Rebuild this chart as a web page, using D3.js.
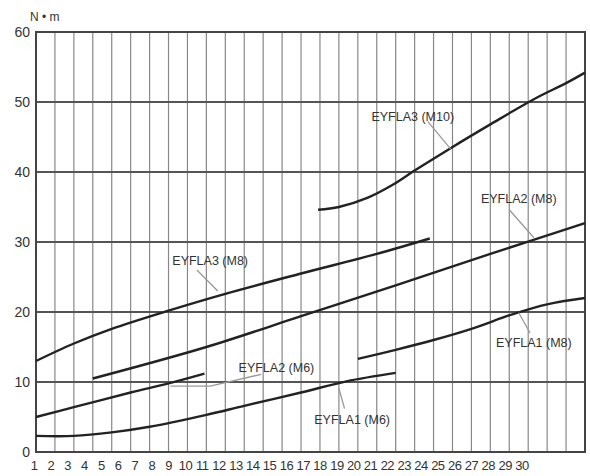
<!DOCTYPE html>
<html><head><meta charset="utf-8">
<script src="https://cdn.jsdelivr.net/npm/d3@7"></script>
<style>body{margin:0;background:#fff}svg{display:block}text{font-family:"Liberation Sans",Arial,sans-serif;fill:#333}</style>
</head><body><svg id="c" width="590" height="476"></svg>
<script>
const xTickLabels = d3.range(1, 31);
const yTicks = [0, 10, 20, 30, 40, 50, 60];
const yUnit = "N • m";
const seriesNames = ["EYFLA1 (M6)", "EYFLA2 (M6)", "EYFLA2 (M8)", "EYFLA3 (M8)", "EYFLA1 (M8)", "EYFLA3 (M10)"];
const fla1m6 = [[1,2.3],[3,2.3],[5,2.8],[7,3.6],[10,5.3],[12,6.6],[15,8.5],[17.4,10.1],[20,11.3]];
const fla2m6 = [[1,5],[3,6.4],[6,8.5],[8,9.8],[9.9,11.2]];
const fla2m8 = [[4,10.5],[10,15],[15,19.4],[20,23.8],[25,28.3],[30,32.7]];
const fla3m8 = [[1,13],[3,15.5],[5,17.6],[8,20.2],[11,22.6],[15,25.5],[19,28.3],[21.8,30.5]];
const fla1m8 = [[18,13.3],[20,14.6],[22,16],[24,17.6],[26.2,19.7],[28,21.1],[30,22]];
const fla3m10 = [[15.9,34.6],[17,35],[18.5,36.3],[19.8,38.1],[21,40.2],[22.9,43.4],[25,46.8],[27.3,50.4],[29,52.7],[30,54.2]];
const seriesData = [fla1m6, fla2m6, fla2m8, fla3m8, fla1m8, fla3m10];
const labelPos = [[17.7,4.6],[13.7,12],[26.5,36.1],[10.2,27.3],[27.3,15.6],[20.9,47.9]];
const leaders = [[[17,9.1],[17.3,6.2]],[[12.9,11.1],[10.2,9.4],[8.1,9.4]],[[26,34.6],[27.3,30.6]],[[9.5,26],[10.6,23]],[[26.5,19.9],[27.1,17]],[[21.7,47.2],[22.9,43.3]]];

const svg = d3.select("#c");
const x = d3.scaleLinear().domain([1,30]).range([36,585]);
const y = d3.scaleLinear().domain([0,60]).range([452,32]);
const xl = d3.scaleLinear().domain([1,30]).range([34,522]);

const g = svg.append("g");
g.selectAll("line.v").data(d3.range(2,30)).join("line")
 .attr("x1",d=>x(d)).attr("x2",d=>x(d)).attr("y1",y(60)).attr("y2",y(0))
 .attr("stroke","#888").attr("stroke-width",1.2);
g.selectAll("line.h").data(yTicks).join("line")
 .attr("x1",x(1)).attr("x2",x(30)).attr("y1",d=>y(d)).attr("y2",d=>y(d))
 .attr("stroke","#555").attr("stroke-width",2);
g.append("rect").attr("x",x(1)).attr("y",y(60)).attr("width",x(30)-x(1)).attr("height",y(0)-y(60))
 .attr("fill","none").attr("stroke","#444").attr("stroke-width",2);
g.selectAll("text.y").data(yTicks).join("text")
 .attr("x",30).attr("y",d=>y(d)+5).attr("text-anchor","end").attr("font-size",14).text(d=>d);
g.append("text").attr("x",30).attr("y",21).attr("font-size",12).text(yUnit);
g.selectAll("text.x").data(xTickLabels).join("text")
 .attr("x",d=>xl(d)).attr("y",470).attr("text-anchor","middle").attr("font-size",13)
 .attr("letter-spacing",-0.5).text(d=>d);

const line = d3.line().x(d=>x(d[0])).y(d=>y(d[1])).curve(d3.curveCatmullRom);
g.selectAll("path.s").data(seriesData).join("path")
 .attr("d",line).attr("fill","none").attr("stroke","#222").attr("stroke-width",2.4);
const ll = d3.line().x(d=>x(d[0])).y(d=>y(d[1]));
g.selectAll("path.l").data(leaders).join("path")
 .attr("d",ll).attr("fill","none").attr("stroke","#999").attr("stroke-width",1.3);
g.selectAll("text.lab").data(seriesNames).join("text")
 .attr("x",(d,i)=>x(labelPos[i][0])).attr("y",(d,i)=>y(labelPos[i][1])+4)
 .attr("text-anchor","middle").attr("font-size",12.5).text(d=>d);
</script></body></html>
